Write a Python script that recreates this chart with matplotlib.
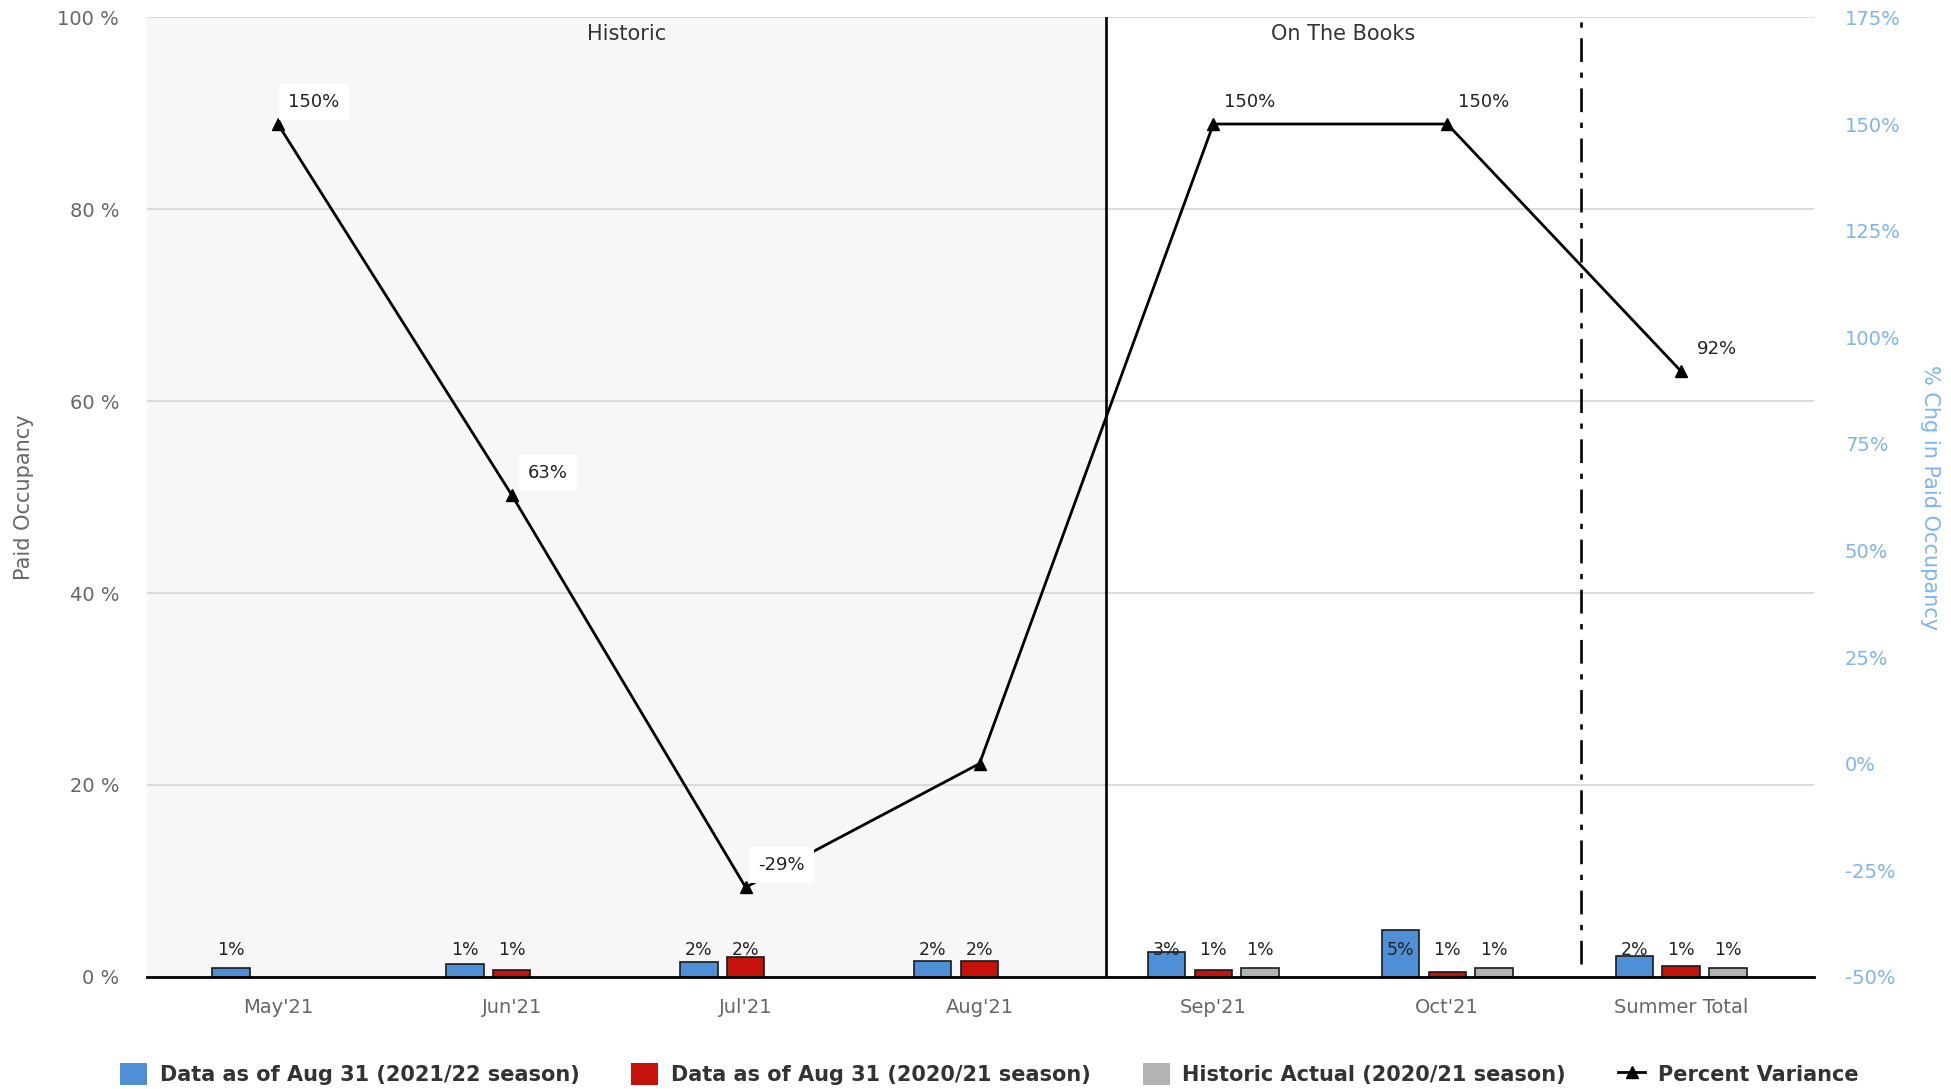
import numpy as np
import matplotlib
matplotlib.use('Agg')
import matplotlib.pyplot as plt
from matplotlib import transforms
from matplotlib.lines import Line2D
from matplotlib.patches import Patch

# data
categories = ["May'21", "Jun'21", "Jul'21", "Aug'21", "Sep'21", "Oct'21", "Summer Total"]
otb_2122 = [0.9, 1.3, 1.5, 1.7, 2.6, 4.9, 2.2]
otb_2021 = [np.nan, 0.7, 2.1, 1.7, 0.7, 0.5, 1.1]
hist_2021 = [np.nan, np.nan, np.nan, np.nan, 0.9, 0.9, 0.9]
otb_2122_lbl = ['1%', '1%', '2%', '2%', '3%', '5%', '2%']
otb_2021_lbl = ['', '1%', '2%', '2%', '1%', '1%', '1%']
hist_2021_lbl = ['', '', '', '', '1%', '1%', '1%']
variance = [150, 63, -29, 0, 150, 150, 92]
variance_lbl = ['150%', '63%', '-29%', '', '150%', '150%', '92%']

left_ticks = [0, 20, 40, 60, 80, 100]
right_ticks = [-50, -25, 0, 25, 50, 75, 100, 125, 150, 175]

series_names = ['Data as of Aug 31 (2021/22 season)', 'Data as of Aug 31 (2020/21 season)',
                'Historic Actual (2020/21 season)', 'Percent Variance']
colors = ['#4f8fd6', '#c5120b', '#b3b3b3']

historic_end = 3.54
otb_end = 5.57

fig = plt.figure(figsize=(19.51, 10.89), dpi=100)
ax = fig.add_axes([0.0753, 0.103, 0.8547, 0.881])
ax2 = ax.twinx()

x = np.arange(len(categories))
xmin, xmax = -0.56, 6.57

# background band + separators
ax.axvspan(xmin, historic_end, color='#f7f7f7', zorder=0, lw=0)
ax.axvline(historic_end, color='black', lw=1.9, zorder=1)
ax.axvline(otb_end, ymin=0.013, color='black', lw=1.9, dashes=(9, 4, 2, 4), zorder=1)

trans = transforms.blended_transform_factory(ax.transData, ax.transAxes)
ax.text((xmin + historic_end) / 2, 0.983, 'Historic', transform=trans, ha='center', va='center',
        fontsize=15, color='#333333')
ax.text((historic_end + otb_end) / 2, 0.983, 'On The Books', transform=trans, ha='center',
        va='center', fontsize=15, color='#333333')

# bars
w = 0.16
label_y = 2.75
for off, vals, lbls, c in zip([-0.2, 0, 0.2], [otb_2122, otb_2021, hist_2021],
                              [otb_2122_lbl, otb_2021_lbl, hist_2021_lbl], colors):
    ax.bar(x + off, vals, width=w, color=c, edgecolor='#1a1a1a', lw=1.2, zorder=3)
    for xi, v, lb in zip(x + off, vals, lbls):
        if lb:
            ax.text(xi, label_y, lb, ha='center', va='center', fontsize=12.5,
                    color='#222222', zorder=4)

ax.set_xlim(xmin, xmax)
ax.set_ylim(0, 100)
ax.set_yticks(left_ticks)
ax.set_yticklabels([f'{t} %' for t in left_ticks])
ax.grid(axis='y', color='#d6d6d6', lw=1.2, zorder=1)
ax.set_axisbelow(True)
ax.set_xticks(x)
ax.set_xticklabels(categories, fontsize=14, color='#666666')
ax.tick_params(axis='x', length=0, pad=15)
ax.tick_params(axis='y', length=0, pad=20, labelsize=14, labelcolor='#666666')
for s in ['top', 'right', 'left']:
    ax.spines[s].set_visible(False)
ax.spines['bottom'].set_color('black')
ax.spines['bottom'].set_linewidth(2)
ax.spines['bottom'].set_zorder(5)
ax.set_ylabel('Paid Occupancy', fontsize=15, color='#666666', va='center')
ax.yaxis.set_label_coords(-0.0735, 0.5)

# percent variance line
ax2.plot(x, variance, color='black', lw=2, marker='^', markersize=9, zorder=5)
for xi, v, lb in zip(x, variance, variance_lbl):
    if lb:
        ax2.annotate(lb, (xi, v), xytext=(26, 16), textcoords='offset points', ha='center',
                     va='center', fontsize=13, color='#222222',
                     bbox=dict(boxstyle='square,pad=0.5', fc='white', ec='none'), zorder=6)
ax2.set_ylim(-50, 175)
ax2.set_yticks(right_ticks)
ax2.set_yticklabels([f'{t}%' for t in right_ticks])
ax2.tick_params(axis='y', length=0, pad=22, labelsize=14, labelcolor='#7cb5ec')
for s in ['top', 'right', 'left', 'bottom']:
    ax2.spines[s].set_visible(False)
ax2.set_ylabel('% Chg in Paid Occupancy', fontsize=15, color='#7cb5ec', rotation=270,
               va='center')
ax2.yaxis.set_label_coords(1.0695, 0.5)

handles = [Patch(fc=colors[0], ec='none'), Patch(fc=colors[1], ec='none'),
           Patch(fc=colors[2], ec='none'),
           Line2D([], [], color='black', lw=2, marker='^', markersize=9)]
fig.legend(handles, series_names, loc='lower center', bbox_to_anchor=(0.507, -0.014), ncol=4,
           frameon=False, handlelength=1.3, handleheight=1.3, handletextpad=0.6,
           columnspacing=2.5, prop={'weight': 'bold', 'size': 15},
           labelcolor='#333333')

fig.savefig('out.png', dpi=100)
